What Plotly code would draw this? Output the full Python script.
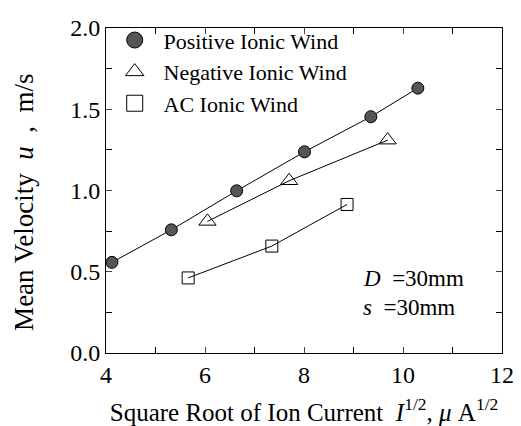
import plotly.graph_objects as go

# Data
pos_x = [4.12, 5.32, 6.64, 8.01, 9.35, 10.30]
pos_y = [0.558, 0.758, 0.998, 1.238, 1.454, 1.630]
neg_x = [6.05, 7.70, 9.69]
neg_y = [0.81, 1.06, 1.31]
ac_x = [5.66, 7.35, 8.87]
ac_y = [0.462, 0.658, 0.914]

series_names = ["Positive Ionic Wind", "Negative Ionic Wind", "AC Ionic Wind"]
x_ticks = [4, 6, 8, 10, 12]
y_ticks = [0.0, 0.5, 1.0, 1.5, 2.0]

FONT = "Liberation Serif"
NB = "\u00a0"

fig = go.Figure()

styles = [
    dict(symbol="circle", size=12, color="#555555", line=dict(color="black", width=1)),
    dict(symbol="triangle-up-open", size=15, color="black", line=dict(color="black", width=1)),
    dict(symbol="square-open", size=12, color="black", line=dict(color="black", width=1)),
]
leg_sizes = [20, 17, 16]

for (xs, ys), name, st, ls in zip([(pos_x, pos_y), (neg_x, neg_y), (ac_x, ac_y)],
                                   series_names, styles, leg_sizes):
    fig.add_trace(go.Scatter(x=xs, y=ys, mode="lines+markers", marker=st,
                             line=dict(color="black", width=1), showlegend=False,
                             cliponaxis=False))
    lst = dict(st)
    lst["size"] = ls
    fig.add_trace(go.Scatter(x=[None], y=[None], mode="markers", marker=lst,
                             name="\u2009\u2009" + name))

# The page body adds an 8px offset, so the figure is drawn 8px smaller
fig.update_layout(
    width=513, height=418,
    margin=dict(l=98, r=19, t=11, b=73),
    paper_bgcolor="white", plot_bgcolor="white",
    font=dict(family=FONT, color="black", size=22),
    showlegend=True,
    legend=dict(x=0.022, y=1.027, xanchor="left", yanchor="top",
                bgcolor="rgba(0,0,0,0)", font=dict(family=FONT, size=22),
                tracegroupgap=0, itemsizing="trace"),
    xaxis=dict(range=[4, 12], tickvals=x_ticks, ticks="inside", ticklen=6,
               tickfont=dict(size=24), showgrid=False, zeroline=False, automargin=False,
               showline=True, linecolor="black", linewidth=1, mirror="ticks",
               minor=dict(dtick=1, ticks="inside", ticklen=6, tickcolor="black"),
               title=dict(text="Square Root of Ion Current  <i>I</i><sup>1/2</sup>, <i>μ</i> A<sup>1/2</sup>",
                          font=dict(size=25), standoff=16)),
    yaxis=dict(range=[0, 2], tickvals=y_ticks, tickformat=".1f", ticks="inside", ticklen=6,
               tickfont=dict(size=24), showgrid=False, zeroline=False, automargin=False,
               showline=True, linecolor="black", linewidth=1, mirror="ticks",
               minor=dict(dtick=0.25, ticks="inside", ticklen=6, tickcolor="black")),
)

# y-axis title as a rotated annotation so its centre can sit where the reference has it
fig.add_annotation(xref="paper", yref="paper", x=-0.207, y=0.462, xanchor="center", yanchor="middle",
                   textangle=-90, showarrow=False, font=dict(size=27),
                   text="Mean Velocity" + NB * 2 + "<i>u</i>" + NB * 2 + "," + NB * 2 + "m/s")

fig.add_annotation(xref="paper", yref="paper", x=0.645, y=0.228, xanchor="left", yanchor="middle",
                   text="<i>D</i>  =30mm", showarrow=False, font=dict(size=23))
fig.add_annotation(xref="paper", yref="paper", x=0.645, y=0.14, xanchor="left", yanchor="middle",
                   text="<i>s</i>  =30mm", showarrow=False, font=dict(size=23))

fig.write_html("out.html")
